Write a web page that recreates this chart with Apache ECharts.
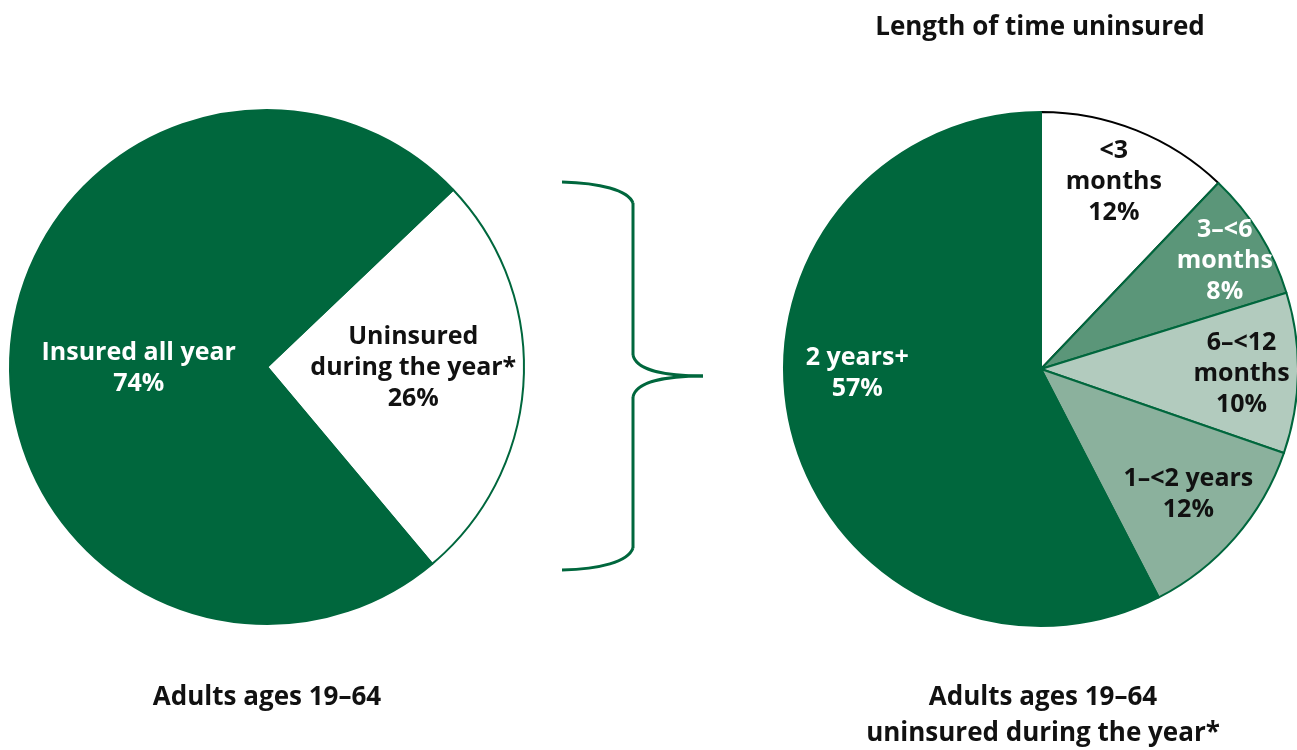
<!DOCTYPE html>
<html>
<head>
<meta charset="utf-8">
<script src="https://cdn.jsdelivr.net/npm/echarts@6/dist/echarts.min.js"></script>
<style>
  html, body { margin: 0; padding: 0; background: #fff; }
  #chart { width: 1297px; height: 750px; }
</style>
</head>
<body>
<div id="chart"></div>
<script>
// Coverage split for adults 19-64
const coverageNames = ['Uninsured\nduring the year*', 'Insured all year'];
const coverageValues = [26, 74];

// Length of time uninsured among those uninsured during the year
const durationNames = ['<3\nmonths', '3\u2013<6\nmonths', '6\u2013<12\nmonths', '1\u2013<2 years', '2 years+'];
const durationValues = [12, 8, 10, 12, 57];

const titleText = 'Length of time uninsured';
const leftCaption = 'Adults ages 19\u201364';
const rightCaptionLines = ['Adults ages 19\u201364', 'uninsured during the year*'];

const GREEN = '#00673d';
const FONT = '"Open Sans", "Noto Sans", sans-serif';

const coverageFill = ['#ffffff', GREEN];
const coverageText = ['#111111', '#ffffff'];
const coverageShift = [[15, -6], [3, 9]];

const durationFill = ['#ffffff', '#5b9679', '#b2cbbe', '#8bb19d', GREEN];
const durationText = ['#111111', '#ffffff', '#111111', '#111111', '#ffffff'];
// the shortest-duration slice carries a black rim; neighbours' green edges are drawn over its sides
const durationBorder = ['#000000', GREEN, GREEN, GREEN, GREEN];
const durationShift = [[24, -65], [72, -39], [69, 3], [48, 39], [-56, -27]];

const labelBase = {
  show: true,
  position: 'inside',
  fontFamily: FONT,
  fontWeight: 'bold',
  fontSize: 25,
  lineHeight: 31,
  align: 'center',
  formatter: p => p.name + '\n' + p.value + '%'
};

const captionStyle = { fontFamily: FONT, fontWeight: 'bold', fontSize: 26, color: '#111' };

const chart = echarts.init(document.getElementById('chart'), null, { renderer: 'canvas' });

chart.setOption({
  animation: false,
  backgroundColor: '#ffffff',
  title: [
    { text: titleText, left: 1040, top: 15, padding: 0, textAlign: 'center', textStyle: captionStyle },
    { text: leftCaption, left: 267, top: 685, padding: 0, textAlign: 'center', textStyle: captionStyle },
    { text: rightCaptionLines[0], left: 1043, top: 685, padding: 0, textAlign: 'center', textStyle: captionStyle },
    { text: rightCaptionLines[1], left: 1043, top: 721, padding: 0, textAlign: 'center', textStyle: captionStyle }
  ],
  series: [
    {
      type: 'pie',
      center: [267, 367],
      radius: [0, 257],
      startAngle: 43.6,
      clockwise: true,
      labelLine: { show: false },
      label: labelBase,
      labelLayout: p => ({ dx: coverageShift[p.dataIndex][0], dy: coverageShift[p.dataIndex][1] }),
      itemStyle: { borderColor: GREEN, borderWidth: 2 },
      data: coverageValues.map((v, i) => ({
        name: coverageNames[i],
        value: v,
        itemStyle: { color: coverageFill[i] },
        label: { color: coverageText[i] }
      }))
    },
    {
      type: 'pie',
      center: [1041, 369],
      radius: [0, 257],
      startAngle: 90,
      clockwise: true,
      labelLine: { show: false },
      label: labelBase,
      labelLayout: p => ({ dx: durationShift[p.dataIndex][0], dy: durationShift[p.dataIndex][1] }),
      itemStyle: { borderColor: GREEN, borderWidth: 2 },
      data: durationValues.map((v, i) => ({
        name: durationNames[i],
        value: v,
        itemStyle: { color: durationFill[i], borderColor: durationBorder[i] },
        label: { color: durationText[i] }
      }))
    }
  ],
  graphic: (function () {
    // curly brace linking the uninsured share to the breakdown
    const st = { fill: 'none', stroke: GREEN, lineWidth: 3 };
    return [
      { type: 'bezierCurve', shape: { x1: 562, y1: 182, cpx1: 600, cpy1: 183, cpx2: 628, cpy2: 190, x2: 633, y2: 203 }, style: st },
      { type: 'line', shape: { x1: 633, y1: 203, x2: 633, y2: 355 }, style: st },
      { type: 'bezierCurve', shape: { x1: 633, y1: 355, cpx1: 636, cpy1: 370, cpx2: 665, cpy2: 376, x2: 703, y2: 376 }, style: st },
      { type: 'bezierCurve', shape: { x1: 703, y1: 376, cpx1: 665, cpy1: 376, cpx2: 636, cpy2: 382, x2: 633, y2: 397 }, style: st },
      { type: 'line', shape: { x1: 633, y1: 397, x2: 633, y2: 548 }, style: st },
      { type: 'bezierCurve', shape: { x1: 633, y1: 548, cpx1: 628, cpy1: 562, cpx2: 600, cpy2: 569, x2: 562, y2: 570 }, style: st }
    ];
  })()
});
</script>
</body>
</html>
